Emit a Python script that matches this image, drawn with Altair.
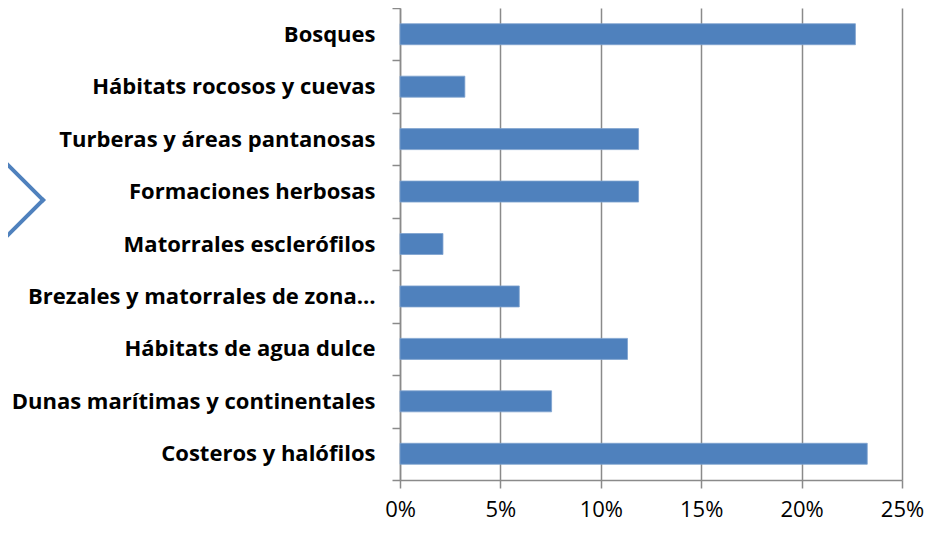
import altair as alt
import pandas as pd

categories = [
    "Bosques",
    "Hábitats rocosos y cuevas",
    "Turberas y áreas pantanosas",
    "Formaciones herbosas",
    "Matorrales esclerófilos",
    "Brezales y matorrales de zona…",
    "Hábitats de agua dulce",
    "Dunas marítimas y continentales",
    "Costeros y halófilos",
]
values = [0.2268, 0.0323, 0.1188, 0.1188, 0.0214, 0.0594, 0.1133, 0.0755, 0.2327]
x_ticks = [0, 0.05, 0.10, 0.15, 0.20, 0.25]

df = pd.DataFrame({"habitat": categories, "share": values})

GRAY = "#8A8A8A"
BLUE = "#4F81BD"

bars = alt.Chart(df).mark_bar(color=BLUE, size=21, stroke="#7EA2CF", strokeWidth=0.8).encode(
    x=alt.X(
        "share:Q",
        scale=alt.Scale(domain=[0, 0.25], nice=False),
        axis=alt.Axis(
            values=x_ticks, format=".0%", title=None, grid=True,
            gridColor=GRAY, gridWidth=1.5, domainColor=GRAY, domainWidth=1.5,
            tickColor=GRAY, tickWidth=1.5, tickSize=8,
            labelFont="Open Sans", labelFontSize=22, labelColor="#000000",
            labelPadding=11, labelFlush=False,
        ),
    ),
    y=alt.Y(
        "habitat:N",
        sort=categories,
        scale=alt.Scale(paddingInner=0, paddingOuter=0),
        axis=alt.Axis(
            title=None, tickBand="extent", grid=False,
            domainColor=GRAY, domainWidth=1.5,
            tickColor=GRAY, tickWidth=1.5, tickSize=8,
            labelFont="Open Sans", labelFontSize=22, labelFontWeight="bold",
            labelColor="#000000", labelPadding=17, labelLimit=500,
        ),
    ),
)

deco = pd.DataFrame({"d": [0]})
arm_top = alt.Chart(deco).mark_rule(color=BLUE, strokeWidth=4, strokeCap="square").encode(
    x=alt.value(-400), y=alt.value(149), x2=alt.value(-357), y2=alt.value(192)
)
arm_bottom = alt.Chart(deco).mark_rule(color=BLUE, strokeWidth=4, strokeCap="square").encode(
    x=alt.value(-357), y=alt.value(192), x2=alt.value(-400), y2=alt.value(235)
)

chart = (
    alt.layer(bars, arm_top, arm_bottom)
    .properties(
        width=502,
        height=472,
        autosize=alt.AutoSizeParams(type="none"),
        padding={"left": 392, "top": 0, "right": 24, "bottom": 46},
        background="white",
    )
    .configure_view(stroke=None)
)

chart.save("out.html", embed_options={"renderer": "svg", "actions": False})
